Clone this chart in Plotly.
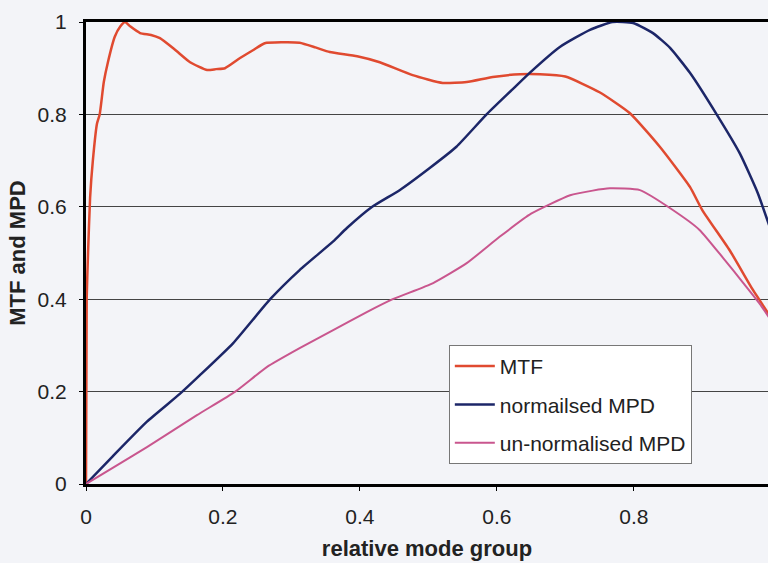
import plotly.graph_objects as go

mtf_x = [0, 0.001, 0.003, 0.006, 0.01, 0.016, 0.02, 0.026, 0.032, 0.042, 0.05, 0.057, 0.065, 0.079,
         0.095, 0.108, 0.13, 0.152, 0.177, 0.19, 0.203, 0.225, 0.245, 0.261, 0.285, 0.312, 0.335,
         0.356, 0.396, 0.429, 0.477, 0.521, 0.556, 0.594, 0.634, 0.663, 0.7, 0.75, 0.794, 0.838,
         0.882, 0.9, 0.94, 0.974, 0.996, 1.0]
mtf_y = [0, 0.4, 0.5, 0.62, 0.7, 0.78, 0.8, 0.87, 0.913, 0.968, 0.99, 1.0, 0.99, 0.976,
         0.972, 0.965, 0.94, 0.913, 0.896, 0.898, 0.9, 0.922, 0.94, 0.954, 0.956, 0.955, 0.945,
         0.935, 0.926, 0.913, 0.885, 0.868, 0.87, 0.881, 0.887, 0.887, 0.882, 0.848, 0.803, 0.73,
         0.643, 0.593, 0.506, 0.42, 0.37, 0.36]

nmpd_x = [0, 0.039, 0.089, 0.137, 0.166, 0.215, 0.269, 0.312, 0.361, 0.381, 0.418, 0.458, 0.502,
          0.541, 0.585, 0.622, 0.648, 0.692, 0.736, 0.769, 0.799, 0.828, 0.853, 0.882, 0.921,
          0.955, 0.981, 1.0]
nmpd_y = [0, 0.06, 0.135, 0.195, 0.235, 0.305, 0.4, 0.463, 0.525, 0.554, 0.6, 0.636, 0.684,
          0.73, 0.8, 0.853, 0.89, 0.946, 0.983, 1.0, 0.998, 0.976, 0.944, 0.89, 0.8,
          0.715, 0.63, 0.55]

umpd_x = [0, 0.039, 0.089, 0.162, 0.218, 0.264, 0.312, 0.361, 0.41, 0.448, 0.507, 0.556,
          0.604, 0.65, 0.707, 0.74, 0.765, 0.809, 0.857, 0.896, 0.93, 0.96, 0.984, 1.0]
umpd_y = [0, 0.035, 0.08, 0.149, 0.2, 0.253, 0.294, 0.333, 0.372, 0.4, 0.435, 0.478,
          0.535, 0.585, 0.625, 0.635, 0.64, 0.636, 0.593, 0.55, 0.49, 0.435, 0.39, 0.355]

x_ticks = [0, 0.2, 0.4, 0.6, 0.8]
x_tick_labels = ["0", "0.2", "0.4", "0.6", "0.8"]
y_ticks = [0, 0.2, 0.4, 0.6, 0.8, 1]
y_tick_labels = ["0", "0.2", "0.4", "0.6", "0.8", "1"]

BG = "#f3f4f8"
FONT = "Liberation Sans, Arial, sans-serif"

fig = go.Figure()
fig.add_trace(go.Scatter(x=mtf_x, y=mtf_y, mode="lines", name="MTF", legendgroup="a",
                         line=dict(color="#e04a30", width=2.5, shape="spline", smoothing=0.5)))
fig.add_trace(go.Scatter(x=nmpd_x, y=nmpd_y, mode="lines", name="normailsed MPD", legendgroup="b",
                         line=dict(color="#1c2668", width=2.5, shape="spline", smoothing=0.5)))
fig.add_trace(go.Scatter(x=umpd_x, y=umpd_y, mode="lines", name="un-normalised MPD", legendgroup="c",
                         line=dict(color="#c9568e", width=2, shape="spline", smoothing=0.5)))

fig.update_layout(
    width=768, height=563,
    margin=dict(l=86, r=0, t=22, b=79),
    paper_bgcolor=BG, plot_bgcolor=BG,
    font=dict(family=FONT, size=21, color="#222"),
    showlegend=True,
    legend=dict(x=0.532, y=0.301, xanchor="left", yanchor="top",
                bgcolor="#ffffff", bordercolor="#777", borderwidth=1,
                font=dict(family=FONT, size=21, color="#222"),
                tracegroupgap=8, itemwidth=40),
    xaxis=dict(range=[0, 0.996], tickvals=x_ticks, ticktext=x_tick_labels,
               showgrid=False, zeroline=False,
               showline=True, linecolor="#000", linewidth=3, mirror=True,
               ticks="outside", ticklen=4, tickcolor="#000", ticklabelstandoff=8,
               title=dict(text="<b>relative mode group</b>", font=dict(size=22), standoff=14)),
    yaxis=dict(range=[0, 1], tickvals=y_ticks, ticktext=y_tick_labels,
               showgrid=True, gridcolor="#444", gridwidth=1, zeroline=False,
               showline=True, linecolor="#000", linewidth=3, mirror=False,
               ticks="outside", ticklen=4, tickcolor="#000", ticklabelstandoff=8,
               title=dict(text="<b>MTF and MPD</b>", font=dict(size=22), standoff=6)),
)

fig.write_html("out.html", config={"displayModeBar": False},
               post_script="document.body.style.margin='0';document.body.style.background='#f3f4f8';")
